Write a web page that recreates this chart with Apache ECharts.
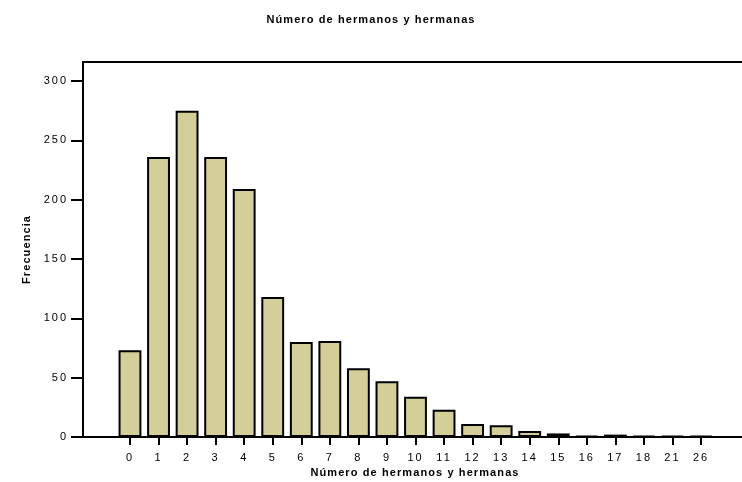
<!DOCTYPE html>
<html>
<head>
<meta charset="utf-8">
<script src="https://cdn.jsdelivr.net/npm/echarts@6/dist/echarts.min.js"></script>
<style>
html,body{margin:0;padding:0;background:#fff;}
#chart{width:742px;height:482px;}
</style>
</head>
<body>
<div id="chart"></div>
<script>
const categories = ['0','1','2','3','4','5','6','7','8','9','10','11','12','13','14','15','16','17','18','21','26'];
const frecuencia = [73, 236, 275, 236, 209, 118, 80, 81, 58, 47, 34, 23, 11, 10, 5, 3, 1, 2, 1, 1, 1];
const yTickValues = [0, 50, 100, 150, 200, 250, 300];
const titleText = 'Número de hermanos y hermanas';
const xName = 'Número de hermanos y hermanas';
const yName = 'Frecuencia';

// wide letter spacing like the original rendering
(function () {
  const proto = CanvasRenderingContext2D.prototype;
  const desc = Object.getOwnPropertyDescriptor(proto, 'font');
  if (!desc || !('letterSpacing' in proto)) return;
  Object.defineProperty(proto, 'font', {
    configurable: true,
    get() { return desc.get.call(this); },
    set(v) {
      desc.set.call(this, v);
      this.letterSpacing = /bold/.test(v) ? '1.1px' : '2px';
    }
  });
})();

const FONT = '"Liberation Sans", Arial, sans-serif';
const chart = echarts.init(document.getElementById('chart'), null, {renderer: 'canvas'});
const YMAX = 316;
chart.setOption({
  animation: false,
  backgroundColor: '#fff',
  title: {
    text: titleText, left: 'center', top: 9,
    textStyle: {fontFamily: FONT, fontSize: 11, fontWeight: 'bold', color: '#000'}
  },
  grid: [
    {left: 83, right: -5, top: 62, bottom: 45, outerBoundsMode: 'none', containLabel: false},
    {left: 115.7, right: 26.7, top: 62, bottom: 45, outerBoundsMode: 'none', containLabel: false}
  ],
  xAxis: [
    {
      gridIndex: 0, type: 'value', min: 0, max: 1, position: 'bottom',
      axisLine: {show: true, lineStyle: {color: '#000', width: 2}},
      axisTick: {show: false}, axisLabel: {show: false}, splitLine: {show: false},
      name: xName, nameLocation: 'middle', nameGap: 30,
      nameTextStyle: {fontFamily: FONT, fontSize: 11, fontWeight: 'bold', color: '#000'}
    },
    {
      gridIndex: 0, type: 'value', min: 0, max: 1, position: 'top',
      axisLine: {show: true, lineStyle: {color: '#000', width: 2}},
      axisTick: {show: false}, axisLabel: {show: false}, splitLine: {show: false}
    },
    {
      gridIndex: 1, type: 'category', data: categories,
      axisLine: {show: false},
      axisTick: {show: true, alignWithLabel: true, length: 8, lineStyle: {color: '#000', width: 2}},
      axisLabel: {fontFamily: FONT, fontSize: 11, color: '#000', margin: 14, interval: 0},
      splitLine: {show: false}
    }
  ],
  yAxis: [
    {
      gridIndex: 0, type: 'value', min: 0, max: YMAX,
      axisLine: {show: true, lineStyle: {color: '#000', width: 2}},
      axisTick: {show: true, length: 12, customValues: yTickValues, lineStyle: {color: '#000', width: 2}},
      axisLabel: {fontFamily: FONT, fontSize: 11, color: '#000', margin: 15, customValues: yTickValues},
      splitLine: {show: false},
      name: yName, nameLocation: 'middle', nameGap: 49, nameRotate: 90,
      nameTextStyle: {fontFamily: FONT, fontSize: 11, fontWeight: 'bold', color: '#000'}
    },
    {gridIndex: 1, type: 'value', min: 0, max: YMAX, show: false, splitLine: {show: false}}
  ],
  series: [{
    type: 'bar', xAxisIndex: 2, yAxisIndex: 1,
    data: frecuencia, barWidth: '80%',
    itemStyle: {color: '#d4cf99', borderColor: '#000', borderWidth: 2}
  }]
});
</script>
</body>
</html>
